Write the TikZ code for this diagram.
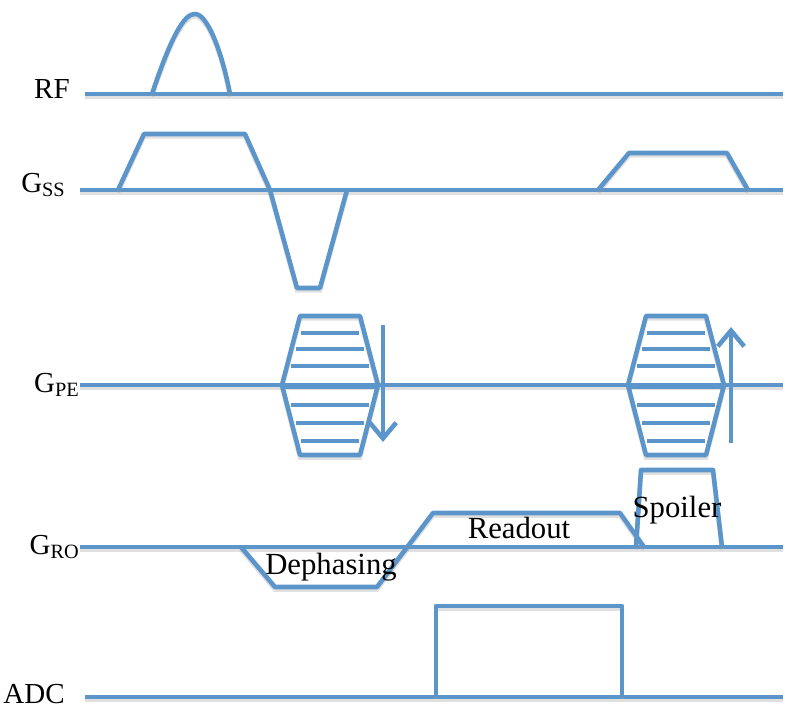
\documentclass[tikz,border=0pt]{standalone}
\usepackage{fontspec}
\setmainfont{Liberation Serif}
\usetikzlibrary{arrows.meta}
\definecolor{seqblue}{RGB}{92,149,202}
\tikzset{
  wave/.style={draw=seqblue, line width=2.6pt, line join=round,
    preaction={draw=black!40, opacity=.3, line width=2.6pt, transform canvas={yshift=-1.4pt}}},
  chname/.style={anchor=base east, inner sep=0pt, font=\fontsize{16.5}{18}\selectfont},
  partname/.style={anchor=base, inner sep=0pt, font=\fontsize{17.5}{20}\selectfont},
  pestep/.style={draw=seqblue, line width=2.4pt},
  peflip/.style={draw=seqblue, line width=2.6pt, -{Straight Barb[length=9pt,width=15pt]}}
}

\begin{document}
\begin{tikzpicture}[x=0.02cm, y=-0.02cm]
  \useasboundingbox (0,0) rectangle (785,707);

  % channel names
  \node[chname] (rf)  at (70,98)  {RF};
  \node[chname] (gss) at (66,192) {G\textsubscript{SS}};
  \node[chname] (gpe) at (80,392) {G\textsubscript{PE}};
  \node[chname] (gro) at (80,554) {G\textsubscript{RO}};
  \node[chname] (adc) at (65,703) {ADC};

  % RF pulse
  \draw[wave] (85,94) -- (783,94);
  \draw[wave] (152,94) .. controls (170,40) and (184,12) .. (196,14)
    .. controls (208,16) and (222,52) .. (230,94);

  % slice select, rephaser and spoiler
  \draw[wave] (80,190) -- (783,190);
  \draw[wave] (118,190) -- (144,134) -- (245,134) -- (270,190) -- (297,288)
    -- (320,288) -- (347,190);
  \draw[wave] (598,190) -- (629,153) -- (727,153) -- (748,190);

  % phase encoding tables
  \draw[wave] (80,385) -- (783,385);
  \foreach \cx in {330,676} {
    \draw[wave] (\cx-48,385) -- (\cx-30,316) -- (\cx+30,316) -- (\cx+48,385)
      -- (\cx+30,455) -- (\cx-30,455) -- cycle;
    \foreach \py/\hw in {333/29, 349/34, 366/39, 405/39, 423/34, 441/29}
      \draw[pestep] (\cx-\hw,\py) -- (\cx+\hw,\py);
    \draw[pestep] (\cx-46,387) -- (\cx+46,387);
  }
  \draw[peflip] (383,325) -- (383,442);
  \draw[peflip] (731,443) -- (731,327);

  % readout gradient
  \draw[wave] (80,547) -- (783,547);
  \draw[wave] (241,547) -- (275,587) -- (377,587) -- (433,513) -- (620,513) -- (644,547);
  \draw[wave] (636,547) -- (641,470) -- (713,470) -- (722,547);
  \node[partname] (deph)  at (331,574) {Dephasing};
  \node[partname] (rdout) at (519,538) {Readout};
  \node[partname] (spoil) at (677,517) {Spoiler};

  % sampling window
  \draw[wave] (85,697) -- (783,697);
  \draw[wave] (436,697) -- (436,606) -- (622,606) -- (622,697);
\end{tikzpicture}
\end{document}
